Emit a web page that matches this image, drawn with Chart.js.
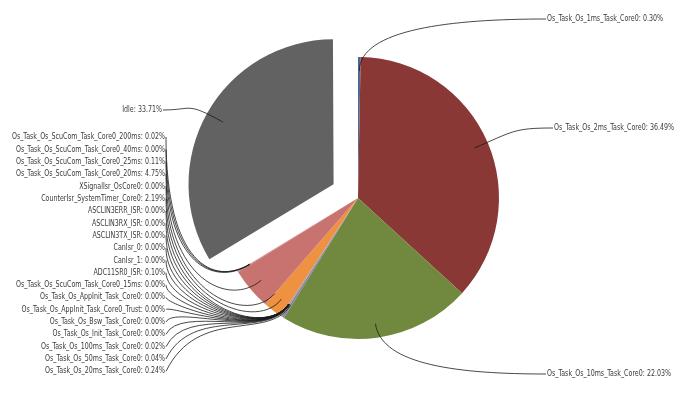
<!DOCTYPE html>
<html>
<head>
<meta charset="utf-8">
<script src="https://cdn.jsdelivr.net/npm/chart.js@4.4.0/dist/chart.umd.min.js"></script>
<style>
  html, body { margin: 0; padding: 0; background: #ffffff; }
  #wrap { width: 700px; height: 401px; position: relative; }
</style>
</head>
<body>
<div id="wrap"><canvas id="pie_load"></canvas></div>
<script>
// clockwise from 12 o'clock
const task_names = [
  "Os_Task_Os_1ms_Task_Core0",
  "Os_Task_Os_2ms_Task_Core0",
  "Os_Task_Os_10ms_Task_Core0",
  "Os_Task_Os_20ms_Task_Core0",
  "Os_Task_Os_50ms_Task_Core0",
  "Os_Task_Os_100ms_Task_Core0",
  "Os_Task_Os_Init_Task_Core0",
  "Os_Task_Os_Bsw_Task_Core0",
  "Os_Task_Os_AppInit_Task_Core0_Trust",
  "Os_Task_Os_AppInit_Task_Core0",
  "Os_Task_Os_ScuCom_Task_Core0_15ms",
  "ADC11SR0_ISR",
  "CanIsr_1",
  "CanIsr_0",
  "ASCLIN3TX_ISR",
  "ASCLIN3RX_ISR",
  "ASCLIN3ERR_ISR",
  "CounterIsr_SystemTimer_Core0",
  "XSignalIsr_OsCore0",
  "Os_Task_Os_ScuCom_Task_Core0_20ms",
  "Os_Task_Os_ScuCom_Task_Core0_25ms",
  "Os_Task_Os_ScuCom_Task_Core0_40ms",
  "Os_Task_Os_ScuCom_Task_Core0_200ms",
  "Idle"
];
const task_share = [
  0.30, 36.49, 22.03, 0.24, 0.04, 0.02, 0.00, 0.00, 0.00, 0.00, 0.00, 0.10,
  0.00, 0.00, 0.00, 0.00, 0.00, 2.19, 0.00, 4.75, 0.11, 0.00, 0.02, 33.71
];
const slice_colors = [
  "#4e6a92", "#8a3836", "#71893e", "#85839f", "#8a8aa2", "#8a8aa2",
  "#8a8aa2", "#8a8aa2", "#8a8aa2", "#8a8aa2", "#8a8aa2", "#8f8aa0",
  "#8a8aa2", "#8a8aa2", "#8a8aa2", "#8a8aa2", "#8a8aa2", "#ee9140",
  "#ee9140", "#c87370", "#c67875", "#c87370", "#c47a78", "#626262"
];
const exploded = "Idle";

const IDLE_OFFSET = 112;   // chart.js moves the arc by offset/4
const label_font = '8.5px "DejaVu Sans", Verdana, sans-serif';

const leaderPlugin = {
  id: 'leaders',
  afterDatasetsDraw(chart) {
    const ctx = chart.ctx;
    const arcs = chart.getDatasetMeta(0).data;
    const n = arcs.length;
    ctx.save();
    ctx.font = label_font;
    // squeeze the text to the narrow face of the original
    const sx = 124 / ctx.measureText('Os_Task_Os_10ms_Task_Core0: 22.03%').width;
    ctx.textBaseline = 'middle';
    ctx.lineWidth = 0.8;
    ctx.strokeStyle = '#1a1a1a';
    arcs.forEach((arc, i) => {
      const p = arc.getProps(['x', 'y', 'startAngle', 'endAngle', 'outerRadius'], true);
      const mid = (p.startAngle + p.endAngle) / 2;
      const ux = Math.cos(mid), uy = Math.sin(mid);
      let cx = p.x, cy = p.y;
      if (task_names[i] === exploded) {
        cx += ux * IDLE_OFFSET / 4;
        cy += uy * IDLE_OFFSET / 4;
      }
      const r = p.outerRadius;
      const x0 = cx + ux * r * 0.9, y0 = cy + uy * r * 0.9;
      const c1x = x0 + ux * r * 0.3, c1y = y0 + uy * r * 0.3;
      const txt = task_names[i] + ': ' + task_share[i].toFixed(2) + '%';
      let ex, ey, c2x, c2y, align;
      if (i === 0) { ex = 546; ey = 19; align = 'left'; }
      else if (i === 1) { ex = 553; ey = 128; align = 'left'; }
      else if (i === 2) { ex = 546; ey = 374; align = 'left'; }
      else if (i === n - 1) { ex = 163; ey = 110; align = 'right'; }
      else {
        ex = 166; ey = 137 + (n - 2 - i) * 12.33; align = 'right';
      }
      if (align === 'left') {
        c2x = ex - (ex - x0) * 0.5; c2y = ey;
      } else if (i === n - 1) {
        c2x = ex + (x0 - ex) * 0.5; c2y = ey;
      } else {
        c2x = ex + 0.5 * Math.max(0, ey - y0); c2y = y0;
      }
      ctx.beginPath();
      ctx.moveTo(x0, y0);
      ctx.bezierCurveTo(c1x, c1y, c2x, c2y, ex, ey);
      ctx.stroke();
      ctx.save();
      ctx.fillStyle = '#3a3a3a';
      ctx.textAlign = align;
      ctx.translate(align === 'left' ? ex + 1 : ex - 1, ey);
      ctx.scale(sx, 1);
      ctx.fillText(txt, 0, 0);
      ctx.restore();
    });
    ctx.restore();
  }
};

new Chart(document.getElementById('pie_load'), {
  type: 'pie',
  data: {
    labels: task_names,
    datasets: [{
      data: task_share,
      backgroundColor: slice_colors,
      borderWidth: 0,
      offset: task_names.map(t => t === exploded ? IDLE_OFFSET : 0)
    }]
  },
  options: {
    responsive: true,
    maintainAspectRatio: false,
    animation: false,
    radius: 141,
    layout: { padding: { left: 16, right: 0, top: 0, bottom: 5 } },
    plugins: {
      legend: { display: false },
      tooltip: { enabled: false }
    },
    events: []
  },
  plugins: [leaderPlugin]
});
</script>
</body>
</html>
